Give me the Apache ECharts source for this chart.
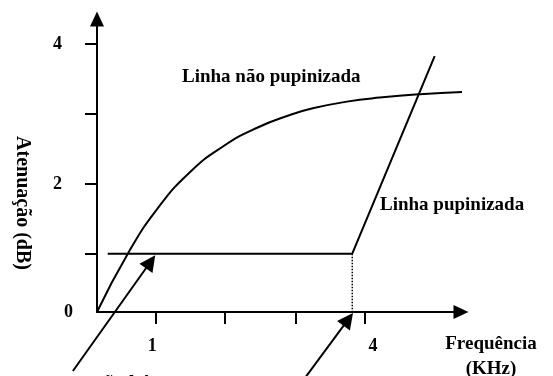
<!DOCTYPE html>
<html>
<head>
<meta charset="utf-8">
<script src="https://cdn.jsdelivr.net/npm/echarts@6/dist/echarts.min.js"></script>
<style>
    html, body { margin: 0; padding: 0; background: #fff; }
    #chart { width: 553px; height: 376px; }
</style>
</head>
<body>
<div id="chart"></div>
<script>
// marcas dos eixos (posição em unidades do eixo) e rótulos
var tickValues = [0.87, 1.91, 2.96, 4];
var xLabelValues = [0.87, 4];
var xLabelText = ['1', '4'];
var yLabelValues = [0, 1.91, 4];
var yLabelText = ['0', '2', '4'];

// linha não pupinizada
var curveX = [0, 0.46, 0.90, 1.39, 1.88, 2.39, 2.88, 3.22, 3.73, 4.22, 4.82, 5.57];
var curveY = [0, 0.87, 1.54, 2.09, 2.47, 2.75, 2.94, 3.04, 3.14, 3.20, 3.25, 3.29];

// linha pupinizada
var pupX = [0.16, 3.81, 5.04];
var pupY = [0.87, 0.87, 3.82];

// frequência de corte (pontilhado)
var cutX = [3.81, 3.81];
var cutY = [0.87, 0];

// setas
var arrowFrom = [[-0.36, -0.88], [3.10, -0.99]];
var arrowTo = [[0.80, 0.75], [3.75, -0.11]];

var font = 'Liberation Serif';

function pairs(xs, ys) {
    return xs.map(function (x, i) { return [x, ys[i]]; });
}

function labelOf(values, texts, v) {
    for (var i = 0; i < values.length; i++) {
        if (Math.abs(values[i] - v) < 1e-6) return texts[i];
    }
    return '';
}

var myChart = echarts.init(document.getElementById('chart'));
var option = {
    animation: false,
    grid: {
        left: 97,
        right: 92,
        top: 19,
        bottom: 64,
        containLabel: false,
        outerBoundsMode: 'none'
    },
    xAxis: {
        type: 'value',
        min: 0,
        max: 5.433,
        splitLine: { show: false },
        axisLine: {
            onZero: false,
            symbol: ['none', 'triangle'],
            symbolSize: [14, 15],
            lineStyle: { color: '#000', width: 2 }
        },
        axisTick: {
            customValues: tickValues,
            length: 12,
            lineStyle: { color: '#000', width: 2 }
        },
        axisLabel: {
            customValues: xLabelValues,
            margin: 25,
            color: '#000',
            fontFamily: font,
            fontWeight: 'bold',
            fontSize: 18,
            formatter: function (v) {
                var t = labelOf(xLabelValues, xLabelText, v);
                return t === '1' ? '{a|' + t + '}' : '{b|' + t + '}';
            },
            rich: {
                a: { padding: [0, 6, 0, 0], fontFamily: font, fontWeight: 'bold', fontSize: 18, color: '#000' },
                b: { padding: [0, 0, 0, 16], fontFamily: font, fontWeight: 'bold', fontSize: 18, color: '#000' }
            }
        },
        name: 'Frequência\n(KHz)',
        nameLocation: 'end',
        nameGap: 30,
        nameTextStyle: {
            color: '#000',
            fontFamily: font,
            fontWeight: 'bold',
            fontSize: 19,
            lineHeight: 25,
            align: 'center',
            verticalAlign: 'top',
            padding: [20, 0, 0, 0]
        }
    },
    yAxis: {
        type: 'value',
        min: 0,
        max: 4.373,
        splitLine: { show: false },
        axisLine: {
            onZero: false,
            symbol: ['none', 'triangle'],
            symbolSize: [14, 15],
            lineStyle: { color: '#000', width: 2 }
        },
        axisTick: {
            customValues: tickValues,
            length: 12,
            lineStyle: { color: '#000', width: 2 }
        },
        axisLabel: {
            customValues: yLabelValues,
            margin: 24,
            color: '#000',
            fontFamily: font,
            fontWeight: 'bold',
            fontSize: 18,
            formatter: function (v) {
                var t = labelOf(yLabelValues, yLabelText, v);
                return t === '0' ? '{z|' + t + '}' : '{a|' + t + '}';
            },
            rich: {
                z: { fontFamily: font, fontWeight: 'bold', fontSize: 18, color: '#000' },
                a: { padding: [0, 11, 0, 0], fontFamily: font, fontWeight: 'bold', fontSize: 18, color: '#000' }
            }
        }
    },
    graphic: [
        {
            type: 'text',
            x: 22,
            y: 203,
            rotation: -Math.PI / 2,
            style: {
                text: 'Atenuação (dB)',
                fill: '#000',
                fontFamily: font,
                fontWeight: 'bold',
                fontSize: 20,
                align: 'center',
                verticalAlign: 'middle'
            }
        },
        {
            type: 'text',
            x: 182,
            y: 77,
            style: {
                text: 'Linha não pupinizada',
                fill: '#000',
                fontFamily: font,
                fontWeight: 'bold',
                fontSize: 19,
                align: 'left',
                verticalAlign: 'middle'
            }
        },
        {
            type: 'text',
            x: 380,
            y: 205,
            style: {
                text: 'Linha pupinizada',
                fill: '#000',
                fontFamily: font,
                fontWeight: 'bold',
                fontSize: 19,
                align: 'left',
                verticalAlign: 'middle'
            }
        },
        {
            type: 'text',
            x: 18,
            y: 385,
            style: {
                text: 'A atenuação há',
                fill: '#000',
                fontFamily: font,
                fontWeight: 'bold',
                fontSize: 20,
                align: 'left',
                verticalAlign: 'middle'
            }
        }
    ],
    series: [
        {
            name: 'Linha não pupinizada',
            type: 'line',
            data: pairs(curveX, curveY),
            smooth: 0.5,
            symbol: 'none',
            clip: false,
            lineStyle: { color: '#000', width: 2 }
        },
        {
            name: 'Linha pupinizada',
            type: 'line',
            data: pairs(pupX, pupY),
            symbol: 'none',
            clip: false,
            lineStyle: { color: '#000', width: 2 }
        },
        {
            type: 'line',
            data: pairs(cutX, cutY),
            symbol: 'none',
            lineStyle: { color: '#000', width: 1.5, type: 'dotted' }
        },
        {
            type: 'lines',
            coordinateSystem: 'cartesian2d',
            clip: false,
            symbol: ['none', 'triangle'],
            symbolSize: [11, 16],
            itemStyle: { color: '#000' },
            lineStyle: { color: '#000', width: 2, opacity: 1, curveness: 0 },
            data: arrowFrom.map(function (p, i) {
                return { coords: [p, arrowTo[i]] };
            })
        }
    ]
};
myChart.setOption(option);
</script>
</body>
</html>
